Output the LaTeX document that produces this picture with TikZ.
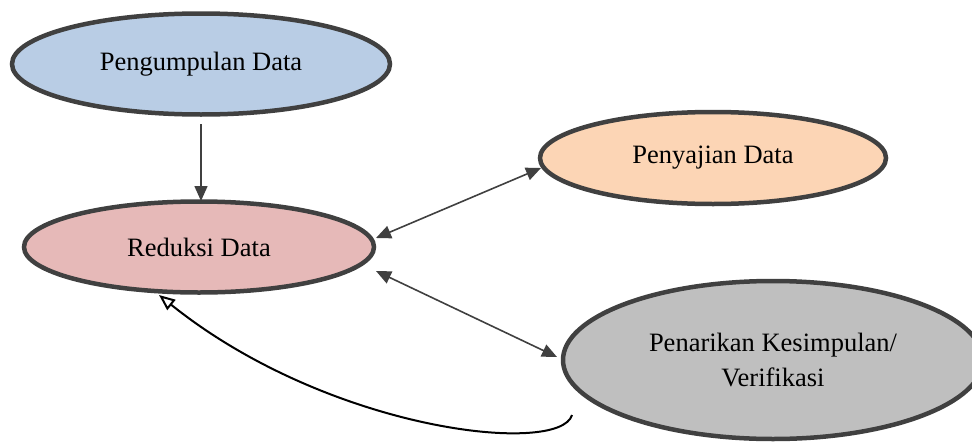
\documentclass[tikz,border=0pt]{standalone}
\usepackage{fontspec}
\setmainfont{Liberation Serif}
\usetikzlibrary{shapes.geometric,arrows.meta}
\definecolor{bluef}{HTML}{B9CDE5}
\definecolor{pinkf}{HTML}{E6B9B8}
\definecolor{orangef}{HTML}{FCD5B5}
\definecolor{grayf}{HTML}{BFBFBF}
\definecolor{edge}{HTML}{404040}
\begin{document}
\begin{tikzpicture}[x=1pt,y=-1pt,
  oval/.style={ellipse,draw=edge,line width=4.5pt,inner sep=0pt,align=center,
    font=\fontsize{26.5}{35}\selectfont},
  link/.style={draw=edge,line width=1.6pt,-{Triangle[length=15pt,width=13pt]}},
  dlink/.style={draw=edge,line width=1.6pt,{Triangle[length=15pt,width=13pt]}-{Triangle[length=15pt,width=13pt]}},
  back/.style={draw=black,line width=2pt,-{Triangle[open,length=16pt,width=13pt,line width=2pt]}}]
\useasboundingbox (0,0) rectangle (972,442);
\node[oval,fill=bluef,minimum width=378pt,minimum height=101pt] (peng) at (201,64) {Pengumpulan Data};
\node[oval,fill=pinkf,minimum width=350pt,minimum height=91pt] (red) at (199,247) {Reduksi Data};
\node[oval,fill=orangef,minimum width=346pt,minimum height=92pt] (sajian) at (713,158) {Penyajian Data};
\node[oval,fill=grayf,minimum width=420pt,minimum height=158pt] (tarik) at (773,360) {Penarikan Kesimpulan/\\Verifikasi};
\coordinate (p1) at (201,124);
\coordinate (p2) at (201,201);
\draw[link] (p1) -- (p2);
\coordinate (r1) at (376,238);
\coordinate (s1) at (541,168);
\draw[dlink] (r1) -- (s1);
\coordinate (r2) at (376,271);
\coordinate (t1) at (557,357);
\draw[dlink] (r2) -- (t1);
\coordinate (c1) at (572,415);
\coordinate (c2) at (159,295);
\draw[back] (c1) .. controls (560,456) and (330,432) .. (c2);
\end{tikzpicture}
\end{document}
